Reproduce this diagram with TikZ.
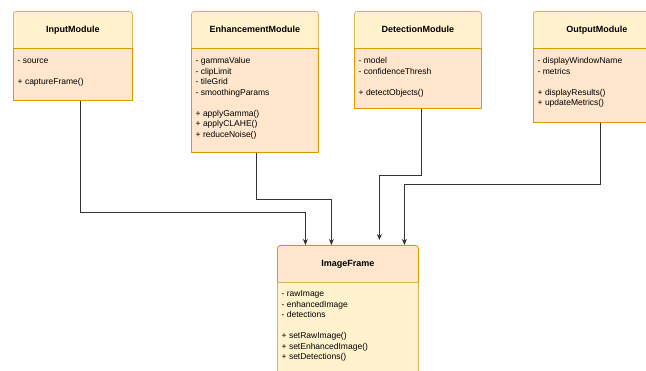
\documentclass[tikz,border=0pt]{standalone}
\usepackage{fontspec}
\setmainfont{Liberation Sans}
\usetikzlibrary{arrows.meta}

\definecolor{headFill}{HTML}{FFF2CC}
\definecolor{headLine}{HTML}{D6B656}
\definecolor{bodyFill}{HTML}{FFE6CC}
\definecolor{bodyLine}{HTML}{D79B00}

\tikzset{
	headBox/.style={rectangle, rounded corners=3pt, draw=headLine, fill=headFill, line width=0.8pt, minimum height=41pt, text height=6pt, text depth=4pt, font=\bfseries\fontsize{9}{10}\selectfont, anchor=north west},
	imgHeadBox/.style={headBox, draw=bodyLine, fill=bodyFill},
	bodyBox/.style={rectangle, draw=bodyLine, fill=bodyFill, line width=0.8pt, anchor=north west},
	imgBodyBox/.style={bodyBox, draw=headLine, fill=headFill},
	memberText/.style={anchor=north west, inner sep=0pt, align=left, font=\fontsize{8.5}{10.5}\selectfont},
	link/.style={-{Stealth[length=6pt,width=5pt]}, line width=0.7pt, draw=black!80}
}

\begin{document}
\begin{tikzpicture}[x=1pt, y=-1pt]
		\useasboundingbox (0,0) rectangle (646,371);

		% module classes
		\node[headBox, minimum width=119pt](inputHead) at (13,11){InputModule};
		\node[bodyBox, minimum width=119pt, minimum height=52pt](inputBody) at (13,48){};
		\node[memberText](inputText) at (17.5,56.3){\strut- source\\[10.5pt]+ captureFrame()};

		\node[headBox, minimum width=127pt](enhanceHead) at (191,11){EnhancementModule};
		\node[bodyBox, minimum width=127pt, minimum height=104pt](enhanceBody) at (191,48){};
		\node[memberText](enhanceText) at (195.5,56.3){\strut- gammaValue\\- clipLimit\\- tileGrid\\- smoothingParams\\[10.5pt]+ applyGamma()\\+ applyCLAHE()\\+ reduceNoise()};

		\node[headBox, minimum width=127pt](detectHead) at (354,11){DetectionModule};
		\node[bodyBox, minimum width=127pt, minimum height=60pt](detectBody) at (354,48){};
		\node[memberText](detectText) at (358.5,56.3){\strut- model\\- confidenceThresh\\[10.5pt]+ detectObjects()};

		\node[headBox, minimum width=127pt](outputHead) at (533,11){OutputModule};
		\node[bodyBox, minimum width=127pt, minimum height=74pt](outputBody) at (533,48){};
		\node[memberText](outputText) at (537.5,56.3){\strut- displayWindowName\\- metrics\\[10.5pt]+ displayResults()\\+ updateMetrics()};

		% shared frame class
		\node[imgHeadBox, minimum width=141pt](imageHead) at (277,245){ImageFrame};
		\node[imgBodyBox, minimum width=141pt, minimum height=95pt](imageBody) at (277,282){};
		\node[memberText](imageText) at (281.5,289){\strut- rawImage\\- enhancedImage\\- detections\\[10.5pt]+ setRawImage()\\+ setEnhancedImage()\\+ setDetections()};

		% draw links
		\draw[link] ([xshift=7pt]inputBody.south) -- ++(0,112) -| ([xshift=-42.5pt]imageHead.north);
		\draw[link] ([xshift=1pt]enhanceBody.south) -- ++(0,47) -| ([xshift=-16.5pt]imageHead.north);
		\draw[link] ([xshift=3pt]detectBody.south) -- ++(0,67) -| ([xshift=31.5pt,yshift=5pt]imageHead.north);
		\draw[link] ([xshift=3.5pt]outputBody.south) -- ++(0,62) -| ([xshift=56.5pt]imageHead.north);

	\end{tikzpicture}
\end{document}
